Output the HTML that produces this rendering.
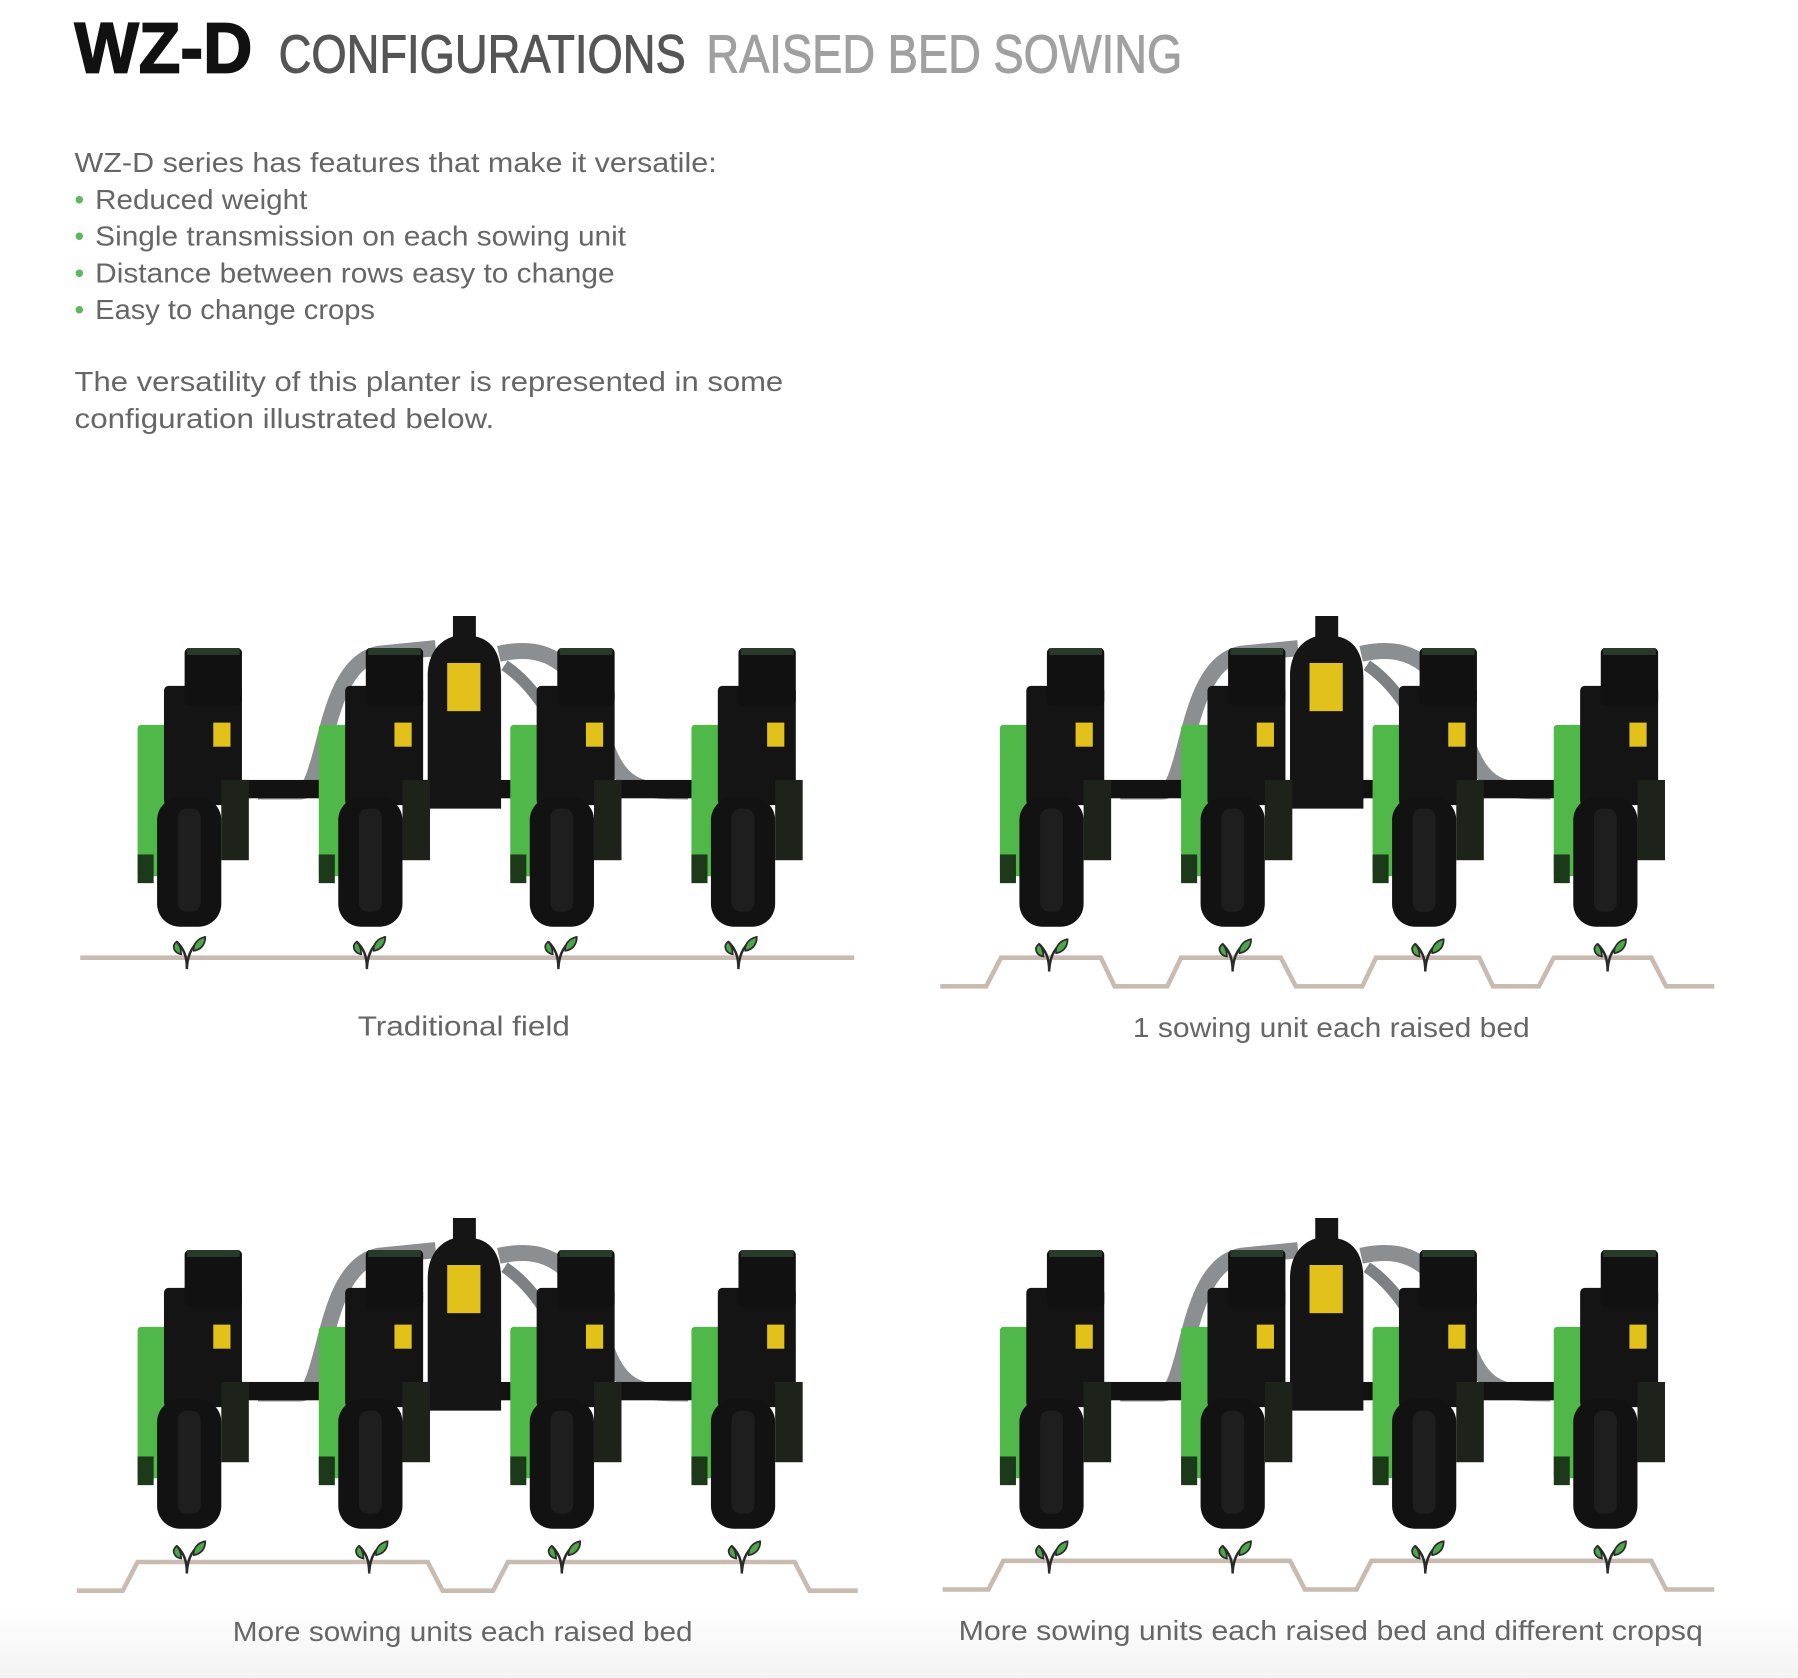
<!DOCTYPE html>
<html><head><meta charset="utf-8"><style>
html,body{margin:0;padding:0;background:#fff;}
svg{display:block;}
</style></head><body>
<svg width="1798" height="1678" viewBox="0 0 1568 1463" xmlns="http://www.w3.org/2000/svg">
<defs>
<linearGradient id="bg" x1="0" y1="0" x2="0" y2="1"><stop offset="0" stop-color="#fff"/><stop offset="1" stop-color="#f3f3f3"/></linearGradient>
<g id="sprout">
 <path d="M0,0 C0,-12 -3,-18 -9,-24" stroke="#2b2b2b" stroke-width="2.2" fill="none"/>
 <path d="M0,-2 C1,-14 5,-22 16,-28" stroke="#2b2b2b" stroke-width="2.2" fill="none"/>
 <path d="M-9,-24 C-14,-20 -11,-14 -5,-13 C-5,-18 -7,-22 -9,-24Z" fill="#4ca64a" stroke="#2b2b2b" stroke-width="1.5"/>
 <path d="M16,-28 C9,-27 5,-21 6,-16 C12,-17 16,-21 16,-28Z" fill="#4ca64a" stroke="#2b2b2b" stroke-width="1.5"/>
</g>
<g id="unit">
 <rect x="-45" y="632" width="28" height="132" fill="#4fb848" rx="3"/>
 <rect x="-45" y="745" width="14" height="25" fill="#1c3a1a"/>
 <rect x="-22" y="598" width="68" height="104" fill="#141414" rx="4"/>
 <rect x="-4" y="565" width="50" height="50" fill="#111" rx="4"/>
 <rect x="-2" y="565" width="46" height="6" fill="#2a3a2a"/>
 <rect x="21" y="630" width="15" height="21" fill="#e2c21a"/>
 <rect x="28" y="680" width="24" height="70" fill="#1d231a"/>
 <rect x="-28" y="695" width="56" height="113" fill="#121212" rx="20"/>
 <rect x="-10" y="705" width="20" height="90" fill="#1e1e1e" rx="8"/>
</g>
<g id="machine">
 <path d="M225,690 L262,690 C285,690 280,580 330,570 L380,565" stroke="#8b8f92" stroke-width="14" fill="none"/>
 <path d="M435,570 C480,560 505,580 525,640 C540,690 560,690 600,690" stroke="#8b8f92" stroke-width="14" fill="none"/>
 <path d="M440,580 C470,600 490,640 500,670" stroke="#7d8184" stroke-width="10" fill="none"/>
 <rect x="140" y="680" width="500" height="16" fill="#121212"/>
 <path d="M373,705 L373,590 C373,565 388,557 395,555 L395,537 L415,537 L415,555 C425,557 437,565 437,590 L437,705Z" fill="#151515"/>
 <rect x="390" y="578" width="29" height="42" fill="#e2c21a"/>
 <use href="#unit" x="165"/>
 <use href="#unit" x="323"/>
 <use href="#unit" x="490"/>
 <use href="#unit" x="648"/>
</g>
</defs>
<rect width="1568" height="1463" fill="#fff"/>
<rect y="1400" width="1568" height="63" fill="url(#bg)"/>

<text x="65" y="63" font-family="Liberation Sans, sans-serif" font-weight="bold" font-size="62" fill="#111" stroke="#111" stroke-width="1.5" textLength="155" lengthAdjust="spacingAndGlyphs">WZ-D</text>
<text x="243" y="63" font-family="Liberation Sans, sans-serif" font-size="47" fill="#555" stroke="#555" stroke-width="0.8" textLength="355" lengthAdjust="spacingAndGlyphs">CONFIGURATIONS</text>
<text x="616" y="63" font-family="Liberation Sans, sans-serif" font-size="47" fill="#a0a0a0" stroke="#a0a0a0" stroke-width="0.8" textLength="415" lengthAdjust="spacingAndGlyphs">RAISED BED SOWING</text>

<g font-family="Liberation Sans, sans-serif" font-size="24" fill="#666">
<text x="65" y="150" textLength="560" lengthAdjust="spacingAndGlyphs">WZ-D series has features that make it versatile:</text>
<text x="65" y="182"><tspan fill="#5cb85c">•</tspan></text><text x="83" y="182" textLength="185" lengthAdjust="spacingAndGlyphs">Reduced weight</text>
<text x="65" y="214"><tspan fill="#5cb85c">•</tspan></text><text x="83" y="214" textLength="463" lengthAdjust="spacingAndGlyphs">Single transmission on each sowing unit</text>
<text x="65" y="246"><tspan fill="#5cb85c">•</tspan></text><text x="83" y="246" textLength="453" lengthAdjust="spacingAndGlyphs">Distance between rows easy to change</text>
<text x="65" y="278"><tspan fill="#5cb85c">•</tspan></text><text x="83" y="278" textLength="244" lengthAdjust="spacingAndGlyphs">Easy to change crops</text>
<text x="65" y="341" textLength="618" lengthAdjust="spacingAndGlyphs">The versatility of this planter is represented in some</text>
<text x="65" y="373" textLength="366" lengthAdjust="spacingAndGlyphs">configuration illustrated below.</text>
<text x="312" y="903" textLength="185" lengthAdjust="spacingAndGlyphs">Traditional field</text>
<text x="988" y="904" textLength="346" lengthAdjust="spacingAndGlyphs">1 sowing unit each raised bed</text>
<text x="203" y="1431" textLength="401" lengthAdjust="spacingAndGlyphs">More sowing units each raised bed</text>
<text x="836" y="1430" textLength="649" lengthAdjust="spacingAndGlyphs">More sowing units each raised bed and different cropsq</text>
</g>

<g fill="none" stroke="#c9bbb0" stroke-width="4">
<path d="M70,835 L745,835"/>
<path d="M820,860 L860,860 L873,835 L960,835 L972,860 L1018,860 L1030,835 L1117,835 L1130,860 L1188,860 L1200,835 L1290,835 L1302,860 L1342,860 L1355,835 L1440,835 L1453,860 L1495,860"/>
<path d="M67,1387 L107,1387 L120,1362 L373,1362 L386,1387 L430,1387 L443,1362 L693,1362 L706,1387 L748,1387"/>
<path d="M822,1386 L862,1386 L875,1361 L1125,1361 L1138,1386 L1183,1386 L1196,1361 L1440,1361 L1453,1386 L1495,1386"/>
</g>

<use href="#machine"/>
<use href="#machine" x="752"/>
<use href="#machine" y="525"/>
<use href="#machine" x="752" y="525"/>

<use href="#sprout" x="163" y="845"/><use href="#sprout" x="320" y="845"/><use href="#sprout" x="487" y="845"/><use href="#sprout" x="644" y="845"/>
<use href="#sprout" x="915" y="847"/><use href="#sprout" x="1075" y="847"/><use href="#sprout" x="1243" y="847"/><use href="#sprout" x="1402" y="847"/>
<use href="#sprout" x="163" y="1372"/><use href="#sprout" x="322" y="1372"/><use href="#sprout" x="490" y="1372"/><use href="#sprout" x="647" y="1372"/>
<use href="#sprout" x="915" y="1372"/><use href="#sprout" x="1075" y="1372"/><use href="#sprout" x="1243" y="1372"/><use href="#sprout" x="1402" y="1372"/>
</svg>
</body></html>
